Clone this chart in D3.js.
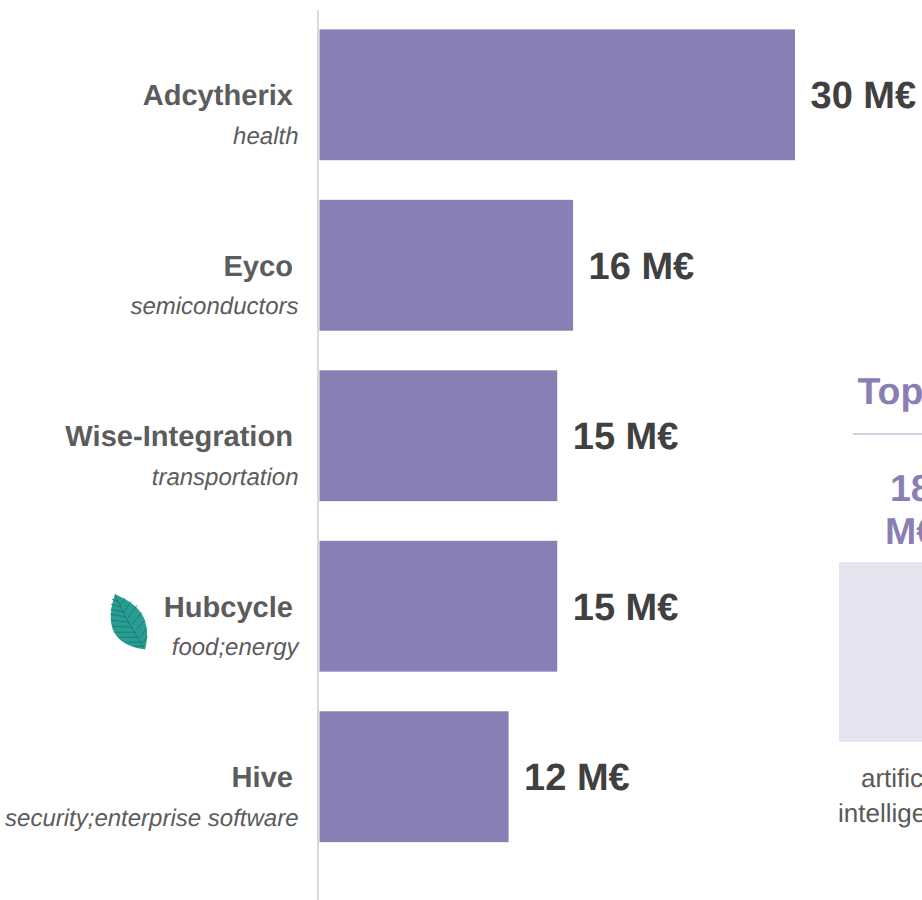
<!DOCTYPE html>
<html><head><meta charset="utf-8">
<script src="https://cdnjs.cloudflare.com/ajax/libs/d3/7.8.5/d3.min.js"></script>
<style>html,body{margin:0;padding:0;background:#fff;overflow:hidden}svg{display:block}text{font-family:"Liberation Sans",Arial,sans-serif;text-rendering:geometricPrecision}</style>
</head><body><svg id="c" width="922" height="900"></svg>
<script>
const companies = ["Adcytherix","Eyco","Wise-Integration","Hubcycle","Hive"];
const sectors = ["health","semiconductors","transportation","food;energy","security;enterprise software"];
const amounts = [30,16,15,15,11.93];
const amountLabels = ["30 M€","16 M€","15 M€","15 M€","12 M€"];
const greenCompanies = ["Hubcycle"];
const topTitle = "Top";
const topValue = 18;
const topValueLines = ["18","M€"];
const topSectorLines = ["artificial","intelligence"];

const svg = d3.select("#c");
const purple="#8A7FB5";
const x = d3.scaleLinear().domain([0,30]).range([319.5,795]);
const y = d3.scaleBand().domain(companies).range([9.5,862]).paddingInner(0.2325).paddingOuter(0.1165);
const h2 = d3.scaleLinear().domain([0,18]).range([742,562]);

svg.append("line").attr("x1",318).attr("x2",318).attr("y1",10).attr("y2",900).attr("stroke","#D9D9D9").attr("stroke-width",2);

companies.forEach((c,i)=>{
  const cy=y(c)+y.bandwidth()/2;
  svg.append("rect").attr("x",x(0)).attr("y",y(c)).attr("width",x(amounts[i])-x(0)).attr("height",y.bandwidth()).attr("fill",purple);
  svg.append("text").attr("x",293).attr("y",cy+10.5).attr("text-anchor","end").attr("font-weight","bold").attr("font-size",29.1).attr("fill","#5c5c5c").text(c);
  svg.append("text").attr("x",298.5).attr("y",cy+49.2).attr("text-anchor","end").attr("font-style","italic").attr("font-size",24).attr("fill","#5c5c5c").text(sectors[i]);
  svg.append("text").attr("x",x(amounts[i])+15.5).attr("y",cy+13.5).attr("font-weight","bold").attr("font-size",38).attr("fill","#404040").text(amountLabels[i]);
  if(greenCompanies.includes(c)){
    const g=svg.append("g").attr("transform",`translate(0,${cy-606})`);
    g.append("path").attr("d","M115,594 C127,599 139,606 144,618 C148,628 148,638 145,649 C133,648 120,643 114,632 C109,622 110,608 115,594Z").attr("fill","#2A9D92");
    const veins=g.append("g").attr("stroke","#12776F").attr("stroke-width",.75).attr("fill","none");
    veins.append("path").attr("d","M115,594 C122,612 134,632 145,649");
    [[118,601,112,599],[121,607,111,604],[124,612,110.5,609],[127,617,110.5,614],[130,622,111,620],[133,627,112,626],[136,632,115,632],[139,637,119,637],[142,642,125,642],[144,646,133,646],
     [120,605,125,598],[124,612,131,601],[128,618,137,605],[132,624,142,612],[136,630,145,620],[140,637,147,628],[143,643,147.5,636]].forEach(v=>veins.append("line").attr("x1",v[0]).attr("y1",v[1]).attr("x2",v[2]).attr("y2",v[3]));
  }
});

svg.append("text").attr("x",857.5).attr("y",404).attr("font-weight","bold").attr("font-size",37.5).attr("fill",purple).text(topTitle);
svg.append("line").attr("x1",853).attr("x2",922).attr("y1",434).attr("y2",434).attr("stroke","#A59DC8").attr("stroke-width",1);
svg.append("text").attr("x",890).attr("y",501).attr("font-weight","bold").attr("font-size",37.5).attr("fill",purple).text(topValueLines[0]);
svg.append("text").attr("x",885).attr("y",544).attr("font-weight","bold").attr("font-size",37.5).attr("fill",purple).text(topValueLines[1]);
svg.append("rect").attr("x",839).attr("y",h2(topValue)).attr("width",140).attr("height",h2(0)-h2(topValue)).attr("fill","#E5E3F0");
svg.append("text").attr("x",861).attr("y",787).attr("font-size",26).attr("fill","#595959").text(topSectorLines[0]);
svg.append("text").attr("x",838).attr("y",822).attr("font-size",26).attr("fill","#595959").text(topSectorLines[1]);
</script></body></html>
